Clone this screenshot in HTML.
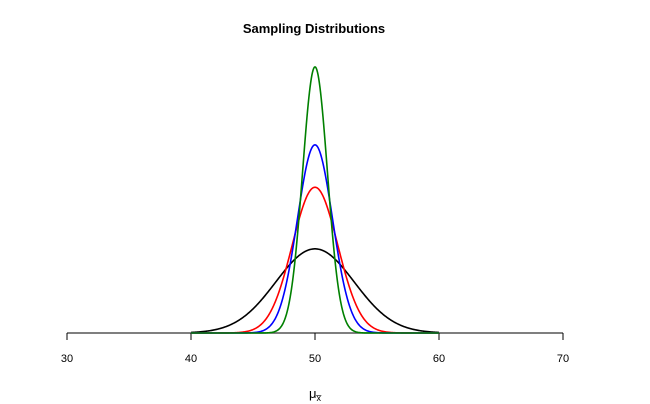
<!DOCTYPE html>
<html><head><meta charset="utf-8"><style>
body{margin:0;background:#fff}
svg{display:block;font-family:"Liberation Sans",Arial,sans-serif}
</style></head><body>
<svg id="s" width="650" height="404" viewBox="0 0 650 404">
<text x="314" y="33" text-anchor="middle" font-size="13" font-weight="bold">Sampling Distributions</text>
<line x1="67" y1="333" x2="563" y2="333" stroke="#555" stroke-width="1.5"/>
<g stroke="#000" stroke-width="1">
<line x1="67" y1="333" x2="67" y2="340"/><line x1="191" y1="333" x2="191" y2="340"/>
<line x1="315" y1="333" x2="315" y2="340"/><line x1="439" y1="333" x2="439" y2="340"/>
<line x1="563" y1="333" x2="563" y2="340"/></g>
<g font-size="11" text-anchor="middle">
<text x="67" y="362">30</text><text x="191" y="362">40</text><text x="315" y="362">50</text>
<text x="439" y="362">60</text><text x="563" y="362">70</text></g>
<text x="315" y="398" text-anchor="middle" font-size="13">μ<tspan font-size="9" dy="3">x̅</tspan></text>
<g id="c" fill="none" stroke-width="1.6"></g>
</svg>
<script>
var g=document.getElementById('c');
[[10,'#000'],[30,'red'],[50,'blue'],[100,'green']].forEach(function(p){
var s=10/Math.sqrt(p[0]),d='';
for(var i=0;i<=400;i++){var x=40+20*i/400;var y=Math.exp(-0.5*Math.pow((x-50)/s,2))/(s*Math.sqrt(2*Math.PI));
d+=(i?'L':'M')+(67+(x-30)*12.4).toFixed(2)+' '+(333-y*667).toFixed(2);}
var e=document.createElementNS('http://www.w3.org/2000/svg','path');e.setAttribute('d',d);e.setAttribute('stroke',p[1]);g.appendChild(e);});
</script>
</body></html>
